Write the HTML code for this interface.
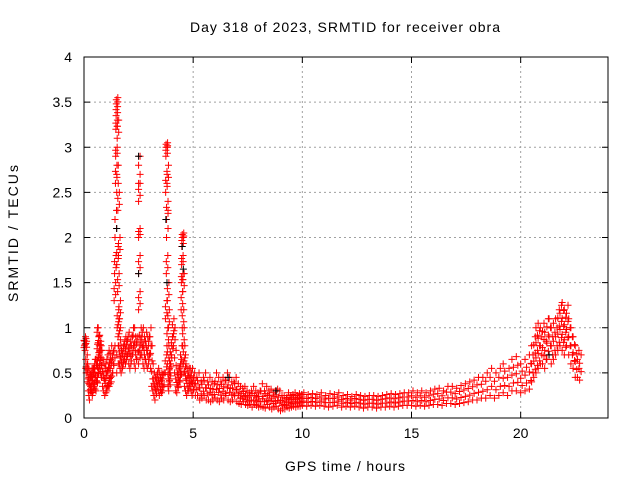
<!DOCTYPE html>
<html><head><meta charset="utf-8"><style>
body{margin:0;background:#fff;}
svg text{font-family:"Liberation Sans",sans-serif;font-size:14px;fill:#000;}
</style></head><body>
<svg id="chart" width="640" height="480">
<rect width="640" height="480" fill="#fff"/>
<text x="190" y="32" textLength="310" lengthAdjust="spacing">Day 318 of 2023, SRMTID for receiver obra</text>
<text x="285" y="471" textLength="120" lengthAdjust="spacing">GPS time / hours</text>
<text transform="translate(18,302) rotate(-90)" textLength="137" lengthAdjust="spacing">SRMTID / TECUs</text>
<g id="grid"></g><g id="ticks"></g><g id="marks"></g>
<rect x="84" y="57" width="524" height="361" fill="none" stroke="#000" stroke-width="1"/>
</svg>
<script>
const xTicks=[0,5,10,15,20];
const yTicks=[0,0.5,1,1.5,2,2.5,3,3.5,4];
const yTickLabels=["0","0.5","1","1.5","2","2.5","3","3.5","4"];
const redTimes=[0,0.02,0.05,0.08,0.1,0.15,0.2,0.22,0.25,0.28,0.3,0.35,0.38,0.4,0.42,0.45,0.5,0.55,0.6,0.62,0.65,0.68,0.7,0.72,0.75,0.8,0.85,0.9,0.95,1.0,1.05,1.1,1.15,1.2,1.25,1.3,
1.35,1.38,1.4,1.42,1.44,1.45,1.46,1.47,1.48,1.5,1.5,1.5,1.52,1.52,1.54,1.55,1.56,1.58,1.6,1.6,1.62,1.65,1.7,1.75,1.8,1.85,1.9,1.95,2.0,2.05,2.1,2.15,2.2,2.25,2.3,2.35,2.4,
2.5,2.5,2.5,2.5,2.5,2.5,2.55,2.6,2.65,2.7,2.75,2.8,2.85,2.9,2.95,3.0,3.05,3.1,3.15,3.2,3.25,3.3,3.35,3.4,3.45,3.5,3.55,3.6,
3.72,3.73,3.74,3.75,3.76,3.77,3.78,3.78,3.8,3.8,3.82,3.82,3.84,3.85,3.88,3.9,3.92,3.95,4.0,4.05,4.1,4.15,4.2,4.25,4.3,4.35,4.4,4.42,
4.45,4.46,4.47,4.48,4.5,4.5,4.52,4.52,4.55,4.58,4.6,4.65,4.7,4.75,4.8,4.85,4.9,4.95,5.0,5.1,5.2,5.3,5.4,5.5,5.6,5.7,5.8,5.9,6.0,6.1,6.2,6.3,6.4,6.5,6.6,6.7,6.8,6.9,7.0,
7.1,7.2,7.3,7.4,7.5,7.6,7.7,7.8,7.9,8.0,8.1,8.2,8.3,8.4,8.5,8.6,8.7,8.8,8.9,9.0,9.1,9.2,9.3,9.4,9.5,9.6,9.7,9.8,9.9,10.0,10.2,10.4,10.6,10.8,11.0,11.2,11.4,11.6,11.8,12.0,12.2,12.4,12.6,12.8,13.0,
13.2,13.4,13.6,13.8,14.0,14.2,14.4,14.6,14.8,15.0,15.2,15.4,15.6,15.8,16.0,16.2,16.4,16.6,16.8,17.0,17.2,17.4,17.6,17.8,18.0,18.2,18.4,18.6,18.8,19.0,19.2,19.4,19.6,19.8,20.0,20.2,20.4,
20.5,20.6,20.7,20.8,20.9,21.0,21.1,21.2,21.3,21.4,21.5,21.6,21.7,21.8,21.9,22.0,22.1,22.2,22.3,22.4,22.5,22.6,22.7];
const redLow=[0.78,0.8,0.75,0.55,0.5,0.4,0.3,0.25,0.2,0.3,0.35,0.3,0.25,0.28,0.3,0.35,0.32,0.3,0.4,0.45,0.5,0.55,0.7,0.6,0.5,0.45,0.35,0.3,0.25,0.28,0.3,0.35,0.35,0.38,0.4,0.5,
0.6,1.3,1.6,2.0,2.6,2.9,3.2,3.35,3.48,0.5,1.7,2.5,1.0,3.1,1.4,2.3,0.9,1.8,0.8,1.1,0.6,0.55,0.5,0.55,0.6,0.65,0.6,0.65,0.7,0.6,0.55,0.6,0.7,0.75,0.6,0.55,0.65,
0.6,1.2,1.6,2.0,2.4,2.6,0.75,0.7,0.7,0.6,0.55,0.65,0.6,0.55,0.6,0.7,0.55,0.35,0.3,0.25,0.2,0.3,0.35,0.3,0.25,0.3,0.28,0.3,
0.5,1.1,2.5,2.9,3.0,1.6,2.0,2.2,0.8,2.6,1.3,0.6,1.0,0.35,0.3,0.4,0.5,0.6,0.7,0.9,0.8,0.5,0.3,0.28,0.35,0.4,0.4,0.5,
1.2,1.5,1.7,1.9,1.0,2.0,0.8,1.4,0.6,0.5,0.35,0.3,0.25,0.3,0.3,0.35,0.3,0.25,0.3,0.25,0.25,0.2,0.22,0.25,0.2,0.2,0.18,0.2,0.22,0.2,0.18,0.22,0.2,0.25,0.2,0.18,0.2,0.25,0.18,
0.16,0.15,0.18,0.15,0.14,0.15,0.12,0.15,0.14,0.12,0.13,0.12,0.11,0.15,0.12,0.1,0.12,0.13,0.1,0.08,0.1,0.1,0.12,0.11,0.12,0.13,0.12,0.13,0.13,0.14,0.13,0.14,0.13,0.14,0.13,0.12,0.13,0.14,0.12,0.13,0.12,0.13,0.12,0.11,0.12,
0.12,0.11,0.12,0.12,0.13,0.12,0.13,0.14,0.14,0.14,0.13,0.14,0.13,0.14,0.15,0.15,0.14,0.16,0.16,0.15,0.16,0.17,0.18,0.2,0.2,0.22,0.22,0.25,0.22,0.25,0.28,0.25,0.3,0.3,0.28,0.3,0.32,
0.4,0.45,0.5,0.55,0.6,0.6,0.55,0.65,0.7,0.6,0.65,0.7,0.75,0.8,0.75,0.7,0.8,0.7,0.6,0.55,0.45,0.45,0.42];
const redHigh=[0.9,0.88,0.85,0.7,0.6,0.55,0.5,0.45,0.45,0.5,0.55,0.55,0.5,0.55,0.6,0.65,0.6,0.65,0.95,1.0,1.0,0.9,0.85,0.8,0.75,0.65,0.6,0.55,0.5,0.6,0.65,0.7,0.75,0.8,0.7,0.75,
0.8,1.5,1.8,2.3,2.8,3.0,3.3,3.45,3.55,0.8,1.9,2.8,1.2,3.3,1.6,2.5,1.1,2.0,1.0,1.3,0.8,0.75,0.7,0.8,0.85,0.9,0.85,0.9,0.95,0.85,0.8,0.9,1.0,1.0,0.9,0.85,0.9,
0.8,1.4,1.8,2.1,2.6,2.9,1.0,0.95,1.0,0.9,0.85,0.95,0.9,0.85,0.9,1.0,0.8,0.6,0.5,0.45,0.4,0.5,0.55,0.5,0.45,0.5,0.48,0.5,
0.7,1.3,2.7,3.0,3.05,1.8,2.3,2.4,1.0,2.8,1.5,0.8,1.2,0.55,0.5,0.6,0.7,0.8,0.9,1.1,1.0,0.75,0.5,0.45,0.55,0.6,0.65,0.8,
1.4,1.6,1.8,2.0,1.2,2.05,1.0,1.6,0.8,0.7,0.6,0.55,0.5,0.55,0.55,0.5,0.55,0.45,0.5,0.45,0.5,0.4,0.45,0.5,0.4,0.45,0.4,0.38,0.5,0.45,0.4,0.45,0.42,0.5,0.45,0.4,0.4,0.45,0.38,
0.35,0.33,0.35,0.3,0.28,0.3,0.35,0.3,0.28,0.3,0.38,0.3,0.35,0.3,0.32,0.28,0.3,0.32,0.3,0.25,0.25,0.22,0.28,0.25,0.26,0.28,0.25,0.27,0.26,0.28,0.26,0.27,0.26,0.28,0.25,0.27,0.26,0.28,0.25,0.26,0.24,0.26,0.25,0.24,0.25,
0.25,0.24,0.25,0.26,0.27,0.26,0.27,0.28,0.28,0.3,0.28,0.3,0.28,0.3,0.32,0.33,0.3,0.35,0.35,0.33,0.36,0.38,0.4,0.42,0.45,0.45,0.5,0.55,0.5,0.55,0.6,0.55,0.65,0.68,0.6,0.65,0.7,
0.8,0.9,1.0,1.05,1.0,1.05,0.95,1.1,1.1,1.0,1.05,1.1,1.2,1.25,1.28,1.2,1.25,1.1,1.0,0.9,0.8,0.75,0.7];
const blackTimes=[1.5,2.5,2.5,3.75,3.8,4.5,4.55,6.6,8.8,21.3];
const blackValues=[2.1,2.9,1.6,2.2,1.5,1.9,1.65,0.45,0.3,0.7];

const X0=84,X1=608,Y0=418,Y1=57;
const xs=v=>X0+v/24*(X1-X0), ys=v=>Y0-v/4*(Y0-Y1);
const NS="http://www.w3.org/2000/svg";
const grid=document.getElementById('grid'),ticks=document.getElementById('ticks'),marks=document.getElementById('marks');
function mk(tag,attrs,parent){const e=document.createElementNS(NS,tag);for(const k in attrs)e.setAttribute(k,attrs[k]);parent.appendChild(e);return e;}
xTicks.forEach(t=>{const x=xs(t);
 if(t>0){const g=mk('line',{x1:x,x2:x,y1:Y0,y2:Y1,stroke:'#a0a0a0','stroke-dasharray':'2,3'},grid);
 
 }
 mk('line',{x1:x,x2:x,y1:Y0,y2:Y0-6,stroke:'#000'},ticks);mk('line',{x1:x,x2:x,y1:Y1,y2:Y1+6,stroke:'#000'},ticks);
 const tx=mk('text',{x:x,y:Y0+20,'text-anchor':'middle'},ticks);tx.textContent=t;
 
 });
yTicks.forEach((t,i)=>{const y=ys(t);
 if(t>0&&t<4){const g=mk('line',{x1:X0,x2:X1,y1:y,y2:y,stroke:'#a0a0a0','stroke-dasharray':'2,3'},grid);
 
 }
 mk('line',{x1:X0,x2:X0+6,y1:y,y2:y,stroke:'#000'},ticks);mk('line',{x1:X1,x2:X1-6,y1:y,y2:y,stroke:'#000'},ticks);
 const tx=mk('text',{x:X0-12,y:y+5,'text-anchor':'end'},ticks);tx.textContent=yTickLabels[i];
 
 });
function plus(x,y,c){const p=mk('path',{d:`M${x-3.5},${y}h7M${x},${y-3.5}v7`,stroke:c,'stroke-width':1,fill:'none'},marks);return p;}
redTimes.forEach((t,i)=>{const x=xs(t),lo=redLow[i],hi=redHigh[i];
 const n=Math.max(3,Math.round((hi-lo)/0.09));
 for(let k=0;k<=n;k++){const v=lo+(hi-lo)*k/n;const dx=(k%2)*1.5;
  const p=plus(x+dx,ys(v),'#ff0000');
  
  }});
blackTimes.forEach((t,i)=>{const p=plus(xs(t),ys(blackValues[i]),'#000');
 
 });
</script>
</body></html>
